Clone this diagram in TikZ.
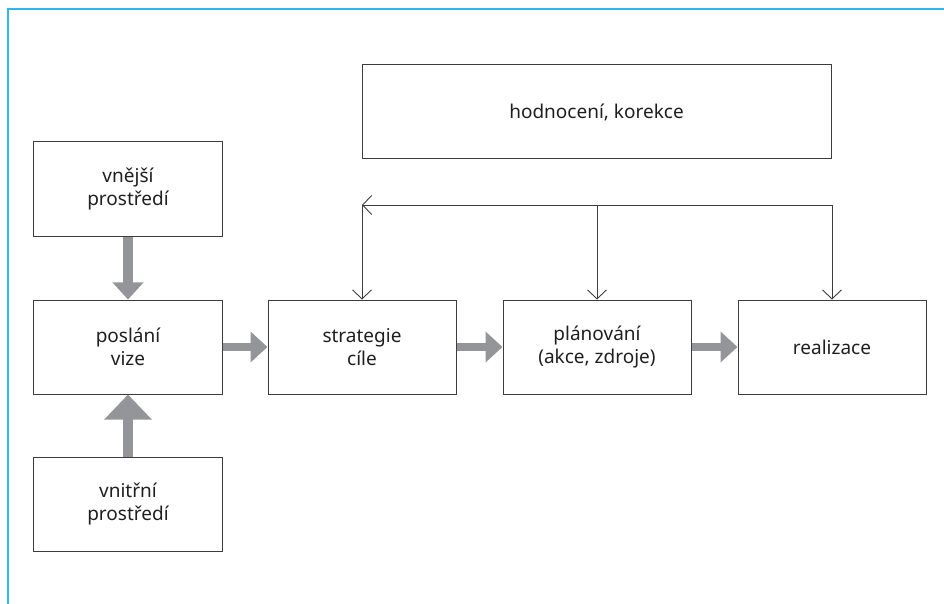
\documentclass[tikz,border=0pt]{standalone}
\usepackage{fontspec}
\setmainfont{Noto Sans}
\usepackage{tikz}
\usetikzlibrary{arrows.meta}

\definecolor{framecyan}{RGB}{43,185,232}
\definecolor{boxline}{RGB}{60,60,60}
\definecolor{flowgrey}{RGB}{147,149,152}

\begin{document}
\begin{tikzpicture}[x=1bp, y=-1bp,
	every node/.style={font=\fontsize{19bp}{23bp}\selectfont, text=black!88},
	box/.style={draw=boxline, line width=1bp, minimum width=188bp, minimum height=94bp, align=center, inner sep=0pt},
	flow/.style={flowgrey, line width=8bp, -{Triangle[width=30bp, length=17bp]}},
	fbline/.style={boxline, line width=0.9bp},
	>={Straight Barb[length=9bp, width=19bp, line width=0.9bp]}]
	\useasboundingbox (0,0) rectangle (944,604);
	\draw[framecyan, line width=2.2bp] (944,9) -- (8,9) -- (8,604);
	\node[box, minimum width=469bp] (hodnoceni) at (596.5,112) {hodnocení, korekce};
	\node[box] (vnejsi) at (128,189) {vnější\\prostředí};
	\node[box] (poslani) at (128,347) {poslání\\vize};
	\node[box] (vnitrni) at (128,504) {vnitřní\\prostředí};
	\node[box] (strategie) at (362,347) {strategie\\cíle};
	\node[box] (planovani) at (597,347) {plánování\\(akce, zdroje)};
	\node[box] (realizace) at (832,347) {realizace};
	% hlavni tok
	\draw[flow, line width=10bp] (vnejsi) -- (poslani);
	\draw[flow, line width=10bp, -{Triangle[width=46bp, length=25bp]}] (vnitrni) -- (poslani);
	\draw[flow] (poslani) -- (strategie);
	\draw[flow] (strategie) -- (planovani);
	\draw[flow] (planovani) -- (realizace);
	% zpetna vazba
	\coordinate (fbtop) at (597,205);
	\draw[fbline, ->] (fbtop) -- (fbtop -| strategie.north);
	\draw[fbline] (fbtop) -- (fbtop -| realizace.north);
	\draw[fbline, ->] (fbtop -| strategie.north) -- (strategie.north);
	\draw[fbline, ->] (fbtop) -- (planovani.north);
	\draw[fbline, ->] (fbtop -| realizace.north) -- (realizace.north);
\end{tikzpicture}
\end{document}
